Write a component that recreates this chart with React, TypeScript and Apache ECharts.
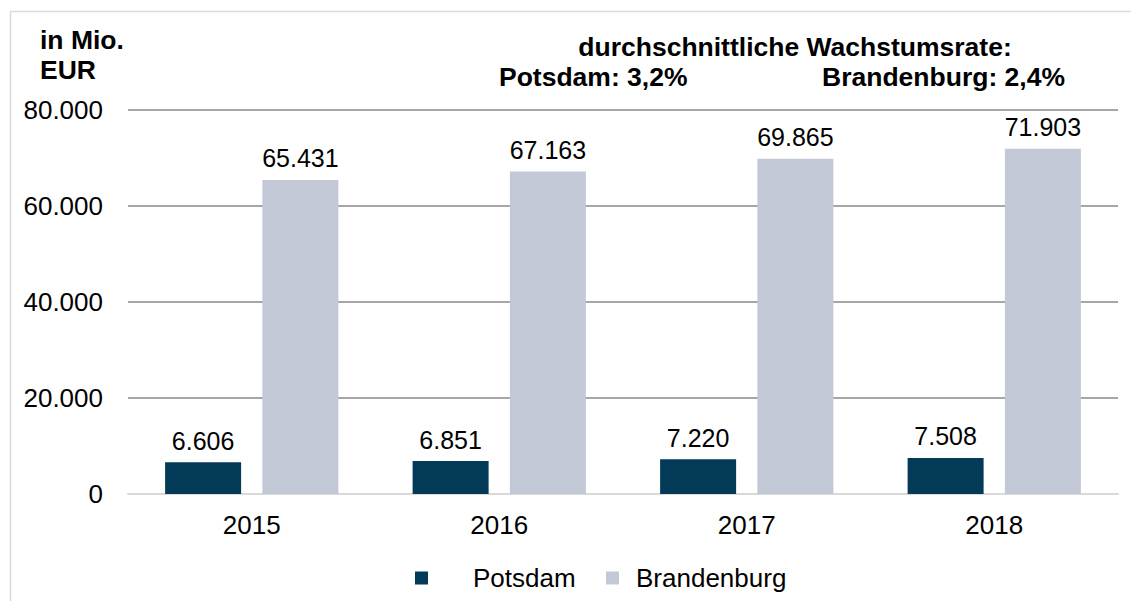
import React, { useEffect, useRef } from "react";
import * as echarts from "echarts";

const years = ["2015", "2016", "2017", "2018"];
const potsdam = [6606, 6851, 7220, 7508];
const brandenburg = [65431, 67163, 69865, 71903];
const seriesNames = ["Potsdam", "Brandenburg"];
const unitLines = ["in Mio.", "EUR"];
const rateTitle = "durchschnittliche Wachstumsrate:";
const rateLabels = ["Potsdam: 3,2%", "Brandenburg: 2,4%"];

const FONT = "Arial, 'Liberation Sans', sans-serif";

function fmt(v: number): string {
  const s = Math.round(v).toString();
  return s.replace(/\B(?=(\d{3})+(?!\d))/g, ".");
}

export default function App() {
  const ref = useRef<HTMLDivElement>(null);
  useEffect(() => {
    document.body.style.margin = "0";
    if (!ref.current) return;
    const chart = echarts.init(ref.current, undefined, { renderer: "svg" });
    const labelStyle = {
      show: true,
      position: "top" as const,
      distance: 9,
      fontSize: 25,
      fontFamily: FONT,
      color: "#000",
      formatter: (p: any) => fmt(p.value),
    };
    const boldFont = `bold 26.5px ${FONT}`;
    chart.setOption({
      animation: false,
      backgroundColor: "#fff",
      grid: { left: 128, right: 13, top: 110, bottom: 107, containLabel: false },
      xAxis: {
        type: "category",
        data: years,
        axisLine: { show: true, lineStyle: { color: "#d9d9d9", width: 2 } },
        axisTick: { show: false },
        axisLabel: { fontSize: 26, fontFamily: FONT, color: "#000", margin: 18 },
      },
      yAxis: {
        type: "value",
        min: 0,
        max: 80000,
        interval: 20000,
        axisLine: { show: false },
        axisTick: { show: false },
        splitLine: { show: true, lineStyle: { color: "#a6a6a6", width: 2 } },
        axisLabel: {
          fontSize: 26,
          fontFamily: FONT,
          color: "#000",
          margin: 25,
          formatter: (v: number) => fmt(v),
        },
      },
      legend: [
        {
          data: [seriesNames[0]],
          left: 410,
          top: 560,
          itemWidth: 13,
          itemHeight: 13,
          icon: "rect",
          textStyle: { fontSize: 26, fontFamily: FONT, color: "#000", padding: [0, 0, 0, 40] },
        },
        {
          data: [seriesNames[1]],
          left: 601,
          top: 560,
          itemWidth: 13,
          itemHeight: 13,
          icon: "rect",
          textStyle: { fontSize: 26, fontFamily: FONT, color: "#000", padding: [0, 0, 0, 12] },
        },
      ],
      series: [
        {
          name: seriesNames[0],
          type: "bar",
          data: potsdam,
          barWidth: 76,
          barGap: "28%",
          itemStyle: { color: "#023a58" },
          label: labelStyle,
        },
        {
          name: seriesNames[1],
          type: "bar",
          data: brandenburg,
          barWidth: 76,
          itemStyle: { color: "#c3c8d6" },
          label: labelStyle,
        },
      ],
      graphic: [
        {
          type: "line",
          shape: { x1: 10, y1: 11.5, x2: 1131, y2: 11.5 },
          style: { stroke: "#d9d9d9", lineWidth: 1.5 },
        },
        {
          type: "line",
          shape: { x1: 10.5, y1: 11, x2: 10.5, y2: 601 },
          style: { stroke: "#d9d9d9", lineWidth: 1.5 },
        },
        {
          type: "text",
          x: 40,
          y: 40,
          style: { text: unitLines[0], font: boldFont, fill: "#000", align: "left", verticalAlign: "middle" },
        },
        {
          type: "text",
          x: 40,
          y: 70,
          style: { text: unitLines[1], font: boldFont, fill: "#000", align: "left", verticalAlign: "middle" },
        },
        {
          type: "text",
          x: 795,
          y: 47,
          style: { text: rateTitle, font: boldFont, fill: "#000", align: "center", verticalAlign: "middle" },
        },
        {
          type: "text",
          x: 499,
          y: 77,
          style: { text: rateLabels[0], font: boldFont, fill: "#000", align: "left", verticalAlign: "middle" },
        },
        {
          type: "text",
          x: 1065,
          y: 77,
          style: { text: rateLabels[1], font: boldFont, fill: "#000", align: "right", verticalAlign: "middle" },
        },
      ],
    });
    return () => chart.dispose();
  }, []);
  return <div ref={ref} style={{ width: 1131, height: 601 }} />;
}
